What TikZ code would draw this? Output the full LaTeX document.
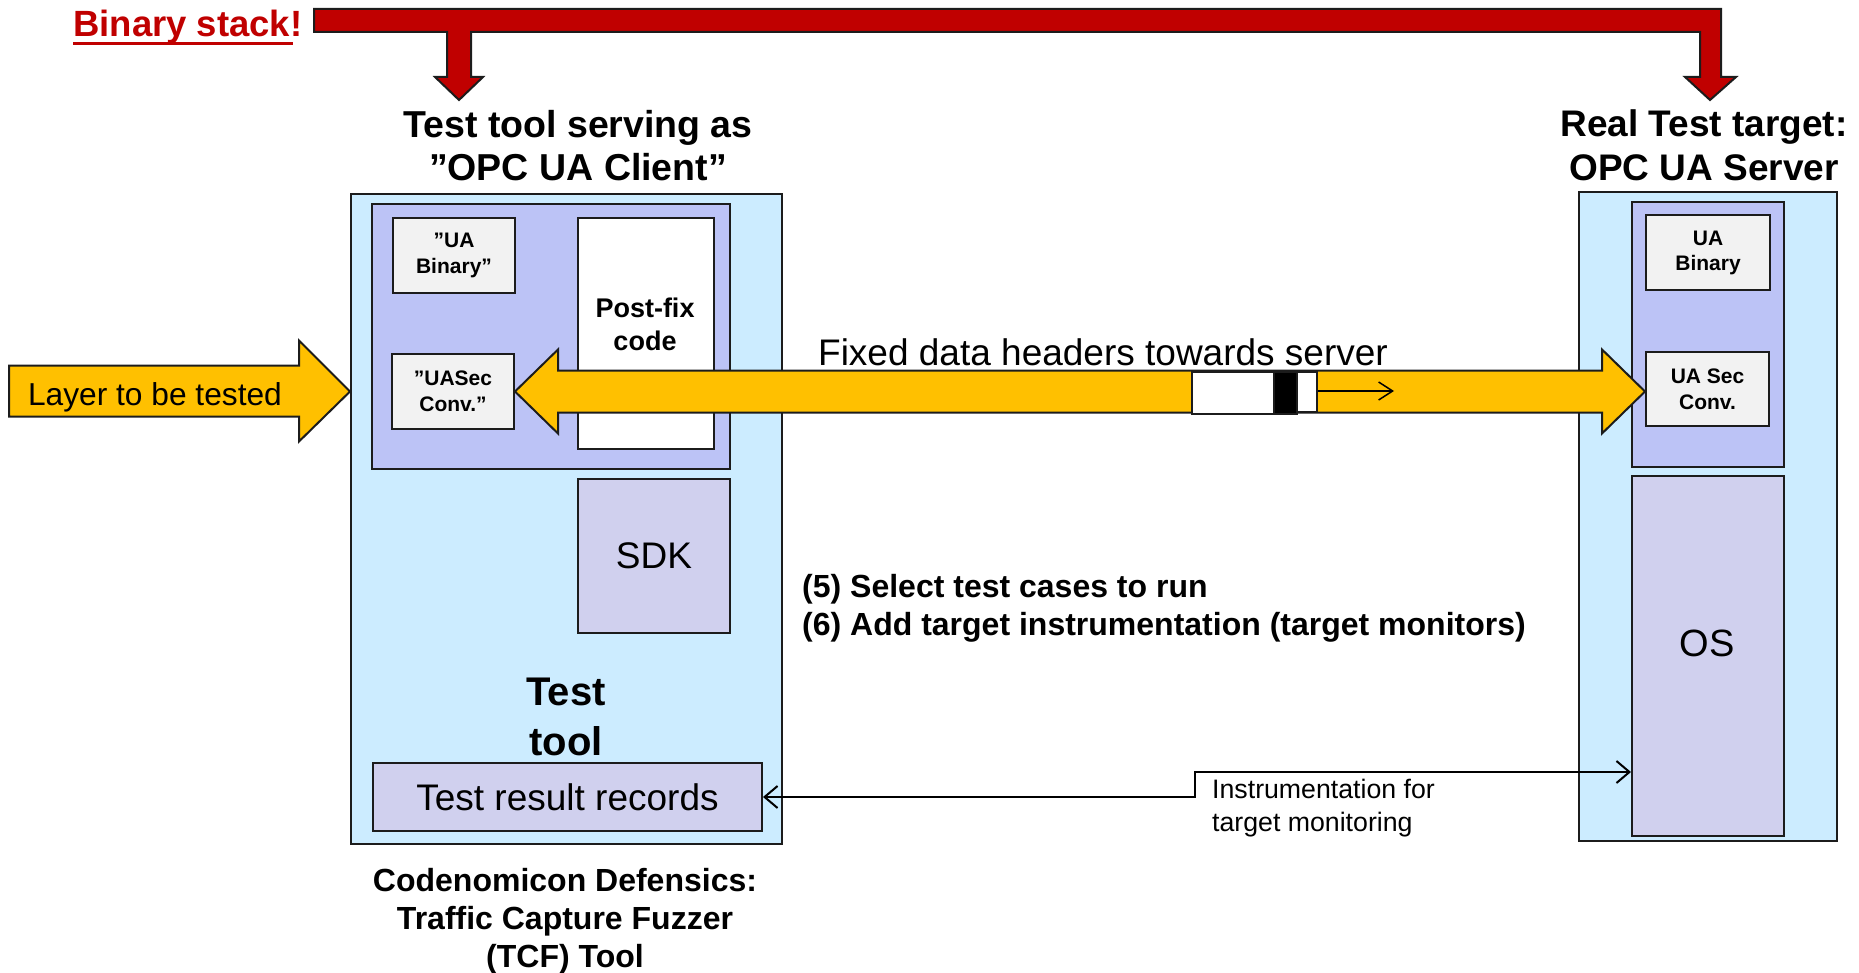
\documentclass[tikz,border=0pt]{standalone}
\usepackage{fontspec}
\setmainfont{Liberation Sans}
\usetikzlibrary{arrows.meta,calc}

\definecolor{barred}{HTML}{C00000}
\definecolor{outerblue}{HTML}{CCECFF}
\definecolor{stackviolet}{HTML}{BCC3F6}
\definecolor{lavender}{HTML}{D0D0EE}
\definecolor{paleGray}{HTML}{F2F2F2}
\definecolor{amber}{HTML}{FFC000}
\definecolor{edge}{HTML}{1C1C1C}

\newcommand{\fsz}[2]{\fontsize{#1pt}{#2pt}\selectfont}

\begin{document}
\begin{tikzpicture}[x=1pt,y=-1pt,
  box/.style={draw=edge, line width=2pt, rectangle, inner sep=0pt, align=center, anchor=north west},
  txt/.style={inner sep=0pt, align=center},
  fat/.style={draw=edge, line width=2pt, line join=miter},
  thinlink/.style={draw=black, line width=2pt}
]
\useasboundingbox (0,0) rectangle (1859,973);

% ---------- test tool (client side) ----------
\node[box, fill=outerblue, minimum width=431pt, minimum height=650pt] (client) at (350,193) {};
\node[box, fill=stackviolet, minimum width=358pt, minimum height=265pt] (cstack) at (371,203) {};
\node[box, fill=paleGray, minimum width=122pt, minimum height=75pt,
      font=\fsz{21}{26}\bfseries] (cbin) at (392,217) {”UA\\Binary”};
\node[box, fill=white, minimum width=136pt, minimum height=231pt] (postfix) at (577,217) {};
\node[txt, font=\fsz{27}{33}\bfseries] (postfixlabel) at (645,324) {Post-fix\\code};
\node[box, fill=paleGray, minimum width=122pt, minimum height=75pt,
      font=\fsz{21}{26}\bfseries] (csec) at (391,353) {”UASec\\Conv.”};
\node[box, fill=lavender, minimum width=152pt, minimum height=154pt,
      font=\fsz{37}{44}] (sdk) at (577,478) {SDK};
\node[txt, font=\fsz{40}{50}\bfseries] (toollabel) at (566,717) {Test\\tool};
\node[box, fill=lavender, minimum width=389pt, minimum height=68pt,
      font=\fsz{37}{44}] (records) at (372,762) {Test result records};

% ---------- real test target (server side) ----------
\node[box, fill=outerblue, minimum width=258pt, minimum height=649pt] (server) at (1578,191) {};
\node[box, fill=stackviolet, minimum width=152pt, minimum height=265pt] (sstack) at (1631,201) {};
\node[box, fill=paleGray, minimum width=124pt, minimum height=75pt,
      font=\fsz{21}{25}\bfseries] (sbin) at (1645,214) {UA\\Binary};
\node[box, fill=paleGray, minimum width=123pt, minimum height=74pt,
      font=\fsz{21}{26}\bfseries] (ssec) at (1645,351) {UA Sec\\Conv.};
\node[box, fill=lavender, minimum width=152pt, minimum height=360pt] (os) at (1631,475) {};
\node[txt, font=\fsz{38}{44}] (oslabel) at (1707,643) {OS};

% ---------- titles ----------
\node[txt, font=\fsz{37.5}{43}\bfseries] (clienttitle) at (578,146) {Test tool serving as\\”OPC UA Client”};
\node[txt, font=\fsz{37}{44}\bfseries] (servertitle) at (1704,145) {Real Test target:\\OPC UA Server};
\node[txt, font=\fsz{32}{38}\bfseries] (tcf) at (565,921) {Codenomicon Defensics:\\Traffic Capture Fuzzer\\(TCF) Tool};

% ---------- binary stack bar with its two drops ----------
\node[inner sep=0pt, anchor=base west, text=barred, font=\fsz{36.5}{44}\bfseries] (binstack) at (73,37) {Binary stack!};
\draw[barred, line width=3pt] ($(binstack.base west)+(0,7)$) -- ++(220,0);
\draw[fat, fill=barred]
  (314,9) -- (1721,9) -- (1721,77) -- (1736,77) -- (1710,100) -- (1685,77) -- (1700,77)
  -- (1700,32) -- (471,32) -- (471,77) -- (483,77) -- (459,100) -- (435,77) -- (447,77)
  -- (447,32) -- (314,32) -- cycle;

% ---------- layer under test ----------
\coordinate (L) at (csec.east);
\coordinate (layertip) at (client.west |- L);
\draw[fat, fill=amber]
  (layertip) -- ++(-51,-51) -- ++(0,25) -- ++(-290,0) -- ++(0,51) -- ++(290,0) -- ++(0,25) -- cycle;
\node[txt, font=\fsz{31.7}{38}] (layerlabel) at (155,397) {Layer to be tested};

% ---------- double arrow between the two stacks ----------
\coordinate (R) at (ssec.west |- L);
\draw[fat, fill=amber]
  (L) -- ($(L)+(43,-42)$) -- ($(L)+(43,-21)$) -- ($(R)+(-43,-21)$) -- ($(R)+(-43,-42)$)
  -- (R) -- ($(R)+(-43,42)$) -- ($(R)+(-43,21)$) -- ($(L)+(43,21)$) -- ($(L)+(43,42)$) -- cycle;
\node[txt, font=\fsz{37}{44}] (fixedlabel) at (1103,352) {Fixed data headers towards server};

% data packet travelling on the arrow
\node[box, fill=white, minimum width=82pt, minimum height=42pt] (pkthead) at (1191,371) {};
\node[box, fill=black, minimum width=23pt, minimum height=42pt] (pktmark) at (1273,371) {};
\node[box, fill=white, minimum width=20pt, minimum height=40pt] (pkttail) at (1296,371) {};
\coordinate (pktgoal) at (1394,391);
\draw[thinlink, line width=1.5pt, -{Straight Barb[length=14pt,width=18pt]}] (pkttail.east |- pktgoal) -- (pktgoal);

% ---------- steps ----------
\node[inner sep=0pt, anchor=west, align=left, font=\fsz{32}{38}\bfseries] (steps) at (802,608)
  {(5) Select test cases to run\\(6) Add target instrumentation (target monitors)};

% ---------- instrumentation link ----------
\coordinate (jog) at (1195,772);
\draw[thinlink, {Straight Barb[length=13pt,width=22pt]}-{Straight Barb[length=13pt,width=22pt]}]
  (records.east) -| (jog) -- (jog -| os.west);
\node[inner sep=0pt, anchor=west, align=left, font=\fsz{26.7}{33}] (instrlabel) at (1212,808)
  {Instrumentation for\\target monitoring};

\end{tikzpicture}
\end{document}
